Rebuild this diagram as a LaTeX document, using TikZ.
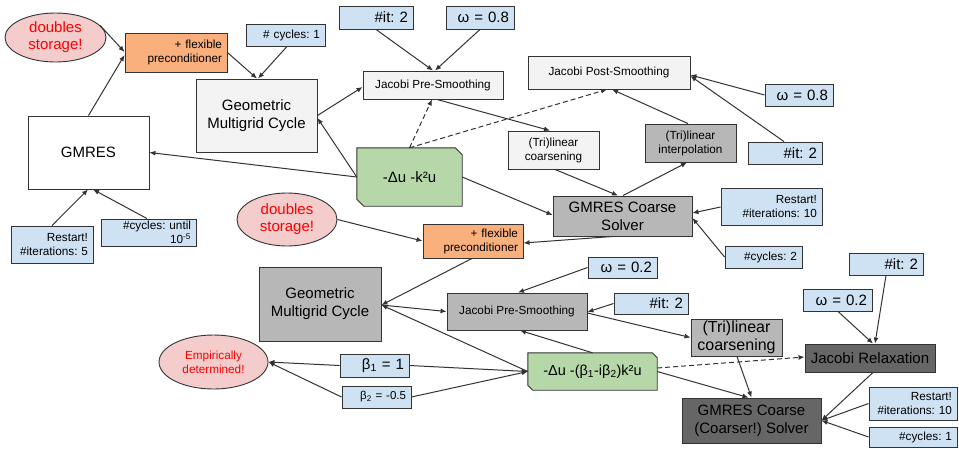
\documentclass[tikz,border=0pt]{standalone}
\usepackage{fontspec}
\setmainfont{Liberation Sans}
\usetikzlibrary{arrows.meta,calc,shapes.geometric,backgrounds}
\definecolor{lblue}{HTML}{CFE2F3}
\definecolor{lgrayc}{HTML}{F3F3F3}
\definecolor{mgrayc}{HTML}{B7B7B7}
\definecolor{dgrayc}{HTML}{666666}
\definecolor{greenc}{HTML}{B6D7A8}
\definecolor{pinkc}{HTML}{F4CCCC}
\definecolor{orangec}{HTML}{F9B07C}
\definecolor{redc}{HTML}{FF0000}
\definecolor{bordc}{HTML}{333333}
\definecolor{linec}{HTML}{333333}
\newcommand{\fsz}[2]{\fontsize{#1}{#2}\selectfont}
\frenchspacing
\tikzset{
 bx/.style={draw=bordc, line width=0.9pt, inner sep=0pt, inner xsep=5pt, align=center, text=black},
 blu/.style={bx, fill=lblue, align=right},
 orng/.style={bx, fill=orangec, align=right},
 lgray/.style={bx, fill=lgrayc},
 mgray/.style={bx, fill=mgrayc},
 dgray/.style={bx, fill=dgrayc},
 wht/.style={bx, fill=white},
 grn/.style={inner sep=0pt, align=center},
 grnshape/.style={draw=bordc, line width=0.9pt, fill=greenc},
 ell/.style={ellipse, draw=bordc, line width=0.9pt, fill=pinkc, text=redc, align=center, inner sep=0pt},
 conn/.style={draw=linec, line width=1pt, -{Latex[length=6pt,width=5pt]}},
 dconn/.style={conn, dash pattern=on 5pt off 3pt},
}
\begin{document}
\begin{tikzpicture}[x=1pt,y=-1pt]
\useasboundingbox (0,0) rectangle (959,448);

% ---------- top diagram ----------
\node[ell, minimum width=101pt, minimum height=49pt, font=\fsz{15}{17}] (ds1) at (55.5,37.5) {doubles\\storage!};
\node[orng, minimum width=102pt, minimum height=39pt, text width=92pt, font=\fsz{11.75}{14}] (fp1) at (176,52.5) {+ flexible\\preconditioner};
\node[blu, minimum width=79pt, minimum height=22pt, text width=69pt, font=\fsz{11.75}{14}] (cy1) at (285.5,35) {\# cycles: 1};
\node[lgray, minimum width=121pt, minimum height=73pt, font=\fsz{15}{18}] (gmc1) at (256.5,115.5) {Geometric\\Multigrid Cycle};
\node[wht, minimum width=121pt, minimum height=73pt, font=\fsz{15}{18}] (gm) at (88.5,152.5) {GMRES};
\node[blu, minimum width=74pt, minimum height=23pt, text width=64pt, font=\fsz{15}{17}] (it1) at (376,17.5) {\#it: 2};
\node[blu, minimum width=68pt, minimum height=23pt, text width=58pt, font=\fsz{15}{17}] (om1) at (480,17.5) {ω = 0.8};
\node[lgray, minimum width=140pt, minimum height=28pt, font=\fsz{11.75}{14}] (jpre1) at (433,85) {Jacobi Pre-Smoothing};
\node[lgray, minimum width=162pt, minimum height=33pt, font=\fsz{11.75}{14}] (jpost) at (609,72.5) {Jacobi Post-Smoothing};
\node[blu, minimum width=68pt, minimum height=22pt, text width=58pt, font=\fsz{15}{17}] (om2) at (799,95) {ω = 0.8};
\node[blu, minimum width=74pt, minimum height=22pt, text width=64pt, font=\fsz{15}{17}] (it2) at (785,153) {\#it: 2};
\node[mgray, minimum width=91pt, minimum height=38pt, font=\fsz{11.75}{14}] (interp) at (690.5,143) {(Tri)linear\\interpolation};
\node[lgray, minimum width=91pt, minimum height=38pt, font=\fsz{11.75}{14}] (coars1) at (553.5,150) {(Tri)linear\\coarsening};
\node[mgray, minimum width=139pt, minimum height=40pt, font=\fsz{15}{18}] (gcs1) at (622.5,216) {GMRES Coarse\\Solver};
\node[grn, minimum width=105pt, minimum height=58pt, font=\fsz{15}{18}] (pde1) at (409.5,177) {-Δu -k²u};
\node[blu, minimum width=101pt, minimum height=37pt, text width=91pt, font=\fsz{11.75}{13.5}] (rs1) at (771.5,206.5) {Restart!\\\#iterations: 10};
\node[blu, minimum width=77pt, minimum height=22pt, text width=67pt, font=\fsz{11.75}{14}] (cy2) at (763.5,257) {\#cycles: 2};
\node[blu, minimum width=82pt, minimum height=37pt, text width=72pt, font=\fsz{11.75}{13.5}] (rs5) at (52,244.5) {Restart!\\\#iterations: 5};
\node[blu, minimum width=95pt, minimum height=27pt, text width=85pt, font=\fsz{11.75}{12}] (cyu) at (148.5,232.5) {\#cycles: until\\10\textsuperscript{-5}};

% ---------- bottom diagram ----------
\node[ell, minimum width=100pt, minimum height=53pt, font=\fsz{15}{17}] (ds2) at (287,219.5) {doubles\\storage!};
\node[orng, minimum width=100pt, minimum height=34pt, text width=90pt, font=\fsz{11.75}{14}] (fp2) at (473,241) {+ flexible\\preconditioner};
\node[blu, minimum width=69pt, minimum height=21pt, text width=59pt, font=\fsz{15}{17}] (om3) at (622.5,267.5) {ω = 0.2};
\node[mgray, minimum width=122pt, minimum height=74pt, font=\fsz{15}{18}] (gmc2) at (320,304) {Geometric\\Multigrid Cycle};
\node[mgray, minimum width=140pt, minimum height=37pt, font=\fsz{11.75}{14}] (jpre2) at (517,311.5) {Jacobi Pre-Smoothing};
\node[blu, minimum width=74pt, minimum height=21pt, text width=64pt, font=\fsz{15}{17}] (it3) at (651,303.5) {\#it: 2};
\node[mgray, minimum width=91pt, minimum height=37pt, font=\fsz{16}{18.5}] (coars2) at (736.5,337.5) {(Tri)linear\\coarsening};
\node[grn, minimum width=129pt, minimum height=37pt, font=\fsz{14.5}{17}] (pde2) at (592.5,371.5) {-Δu -(β\textsubscript{1}-iβ\textsubscript{2})k²u};
\node[dgray, minimum width=139pt, minimum height=45pt, font=\fsz{15}{18}] (gcs2) at (751.5,420.5) {GMRES Coarse\\(Coarser!) Solver};
\node[dgray, minimum width=130pt, minimum height=28pt, font=\fsz{15}{17}] (jrel) at (870,358) {Jacobi Relaxation};
\node[blu, minimum width=69pt, minimum height=22pt, text width=59pt, font=\fsz{15}{17}] (om4) at (837.5,300) {ω = 0.2};
\node[blu, minimum width=74pt, minimum height=22pt, text width=64pt, font=\fsz{15}{17}] (it4) at (886,264) {\#it: 2};
\node[blu, minimum width=88pt, minimum height=33pt, text width=78pt, font=\fsz{11.75}{14}] (rs10b) at (913,403.5) {Restart!\\\#iterations: 10};
\node[blu, minimum width=88pt, minimum height=20pt, text width=78pt, font=\fsz{11.75}{14}] (cy3) at (913,437) {\#cycles: 1};
\node[ell, minimum width=109pt, minimum height=54pt, font=\fsz{11.75}{14}] (emp) at (213.5,362) {Empirically\\determined!};
\node[blu, minimum width=69pt, minimum height=23pt, text width=59pt, font=\fsz{15}{17}] (b1) at (374.5,365.5) {β\textsubscript{1} = 1};
\node[blu, minimum width=69pt, minimum height=22pt, text width=59pt, font=\fsz{11.5}{14}] (b2) at (376.5,397) {β\textsubscript{2} = -0.5};

% background and green snipped shapes
\begin{pgfonlayer}{background}
\fill[white] (0,0) rectangle (959,448);
\draw[grnshape] (pde1.north west) -- ($(pde1.north east)+(-7,0)$) -- ($(pde1.north east)+(0,7)$) -- (pde1.south east) -- ($(pde1.south west)+(7,0)$) -- ($(pde1.south west)+(0,-7)$) -- cycle;
\draw[grnshape] (pde2.north west) -- ($(pde2.north east)+(-5,0)$) -- ($(pde2.north east)+(0,5)$) -- (pde2.south east) -- ($(pde2.south west)+(5,0)$) -- ($(pde2.south west)+(0,-5)$) -- cycle;
\end{pgfonlayer}

% ---------- top connectors ----------
\draw[conn] (gm.north) -- ($(fp1.west)+(0,2.5)$);
\draw[conn] (ds1.15) -- ($(fp1.west)+(0,-0.5)$);
\draw[conn] (fp1.east) -- ($(gmc1.north)+(0.5,0)$);
\draw[conn] ($(cy1.south)+(1.5,0)$) -- ($(gmc1.north)+(1.5,0)$);
\draw[conn] (gmc1.east) -- ($(jpre1.west)+(0,2)$);
\draw[conn] (it1.south) -- (jpre1.north);
\draw[conn] (om1.south) -- ($(jpre1.north)+(2,0)$);
\draw[conn] (pde1.west) -- ($(gmc1.east)+(0,2.5)$);
\draw[conn] (pde1.west) -- (gm.east);
\draw[dconn] (pde1.north) -- ($(jpre1.south)+(-1,0)$);
\draw[dconn] (pde1.north) -- ($(jpost.south)+(-2,0)$);
\draw[conn] ($(jpre1.south)+(4,0)$) -- ($(coars1.north)+(-3.5,0)$);
\draw[conn] ($(coars1.south)+(1.5,0)$) -- ($(gcs1.north)+(-4.5,0)$);
\draw[conn] ($(gcs1.north)+(0.5,0)$) -- ($(interp.south)+(-3.5,0)$);
\draw[conn] ($(interp.north)+(-2.5,0)$) -- ($(jpost.south)+(3,0)$);
\draw[conn] (om2.west) -- ($(jpost.east)+(0,2.5)$);
\draw[conn] ($(it2.north)+(-1,0)$) -- ($(jpost.east)+(0,3.5)$);
\draw[conn] (pde1.east) -- ($(gcs1.west)+(0,-1)$);
\draw[conn] ($(rs1.west)+(0,0.5)$) -- ($(gcs1.east)+(0,-3)$);
\draw[conn] (cy2.west) -- ($(gcs1.east)+(0,2)$);
\draw[conn] ($(gcs1.south)+(-9.5,0)$) -- ($(fp2.east)+(0,2)$);
\draw[conn] (ds2.east) -- (fp2.west);
\draw[conn] (rs5.north) -- ($(gm.south)+(-0.5,0)$);
\draw[conn] ($(cyu.north)+(-1.5,0)$) -- ($(gm.south)+(4.5,0)$);

% ---------- bottom connectors ----------
\draw[conn] ($(fp2.south)+(-1,0)$) -- ($(gmc2.east)+(0,1)$);
\draw[conn] ($(gmc2.east)+(0,1)$) -- (jpre2.west);
\draw[conn] (pde2.west) -- ($(gmc2.east)+(0,1)$);
\draw[conn] (pde2.north) -- ($(jpre2.south)+(3,0)$);
\draw[conn] (om3.west) -- ($(jpre2.north)+(1,0)$);
\draw[conn] (it3.west) -- ($(jpre2.east)+(0,0.5)$);
\draw[conn] ($(jpre2.east)+(0,1.5)$) -- (coars2.west);
\draw[conn] ($(coars2.south)+(0.5,0)$) -- (gcs2.north);
\draw[conn] (pde2.east) -- ($(gcs2.north)+(-3,0)$);
\draw[dconn] ($(pde2.east)+(0,-3.5)$) -- ($(jrel.west)+(0,-1)$);
\draw[conn] ($(jrel.south)+(3,0)$) -- (gcs2.east);
\draw[conn] (rs10b.west) -- (gcs2.east);
\draw[conn] (cy3.west) -- (gcs2.east);
\draw[conn] ($(om4.south)+(0.5,0)$) -- ($(jrel.north)+(3,0)$);
\draw[conn] (it4.south) -- ($(jrel.north)+(5,0)$);
\draw[conn] (b1.west) -- (emp.east);
\draw[conn] (b2.west) -- (emp.east);
\draw[conn] (b1.east) -- (pde2.west);
\draw[conn] (b2.east) -- (pde2.west);
\end{tikzpicture}
\end{document}
